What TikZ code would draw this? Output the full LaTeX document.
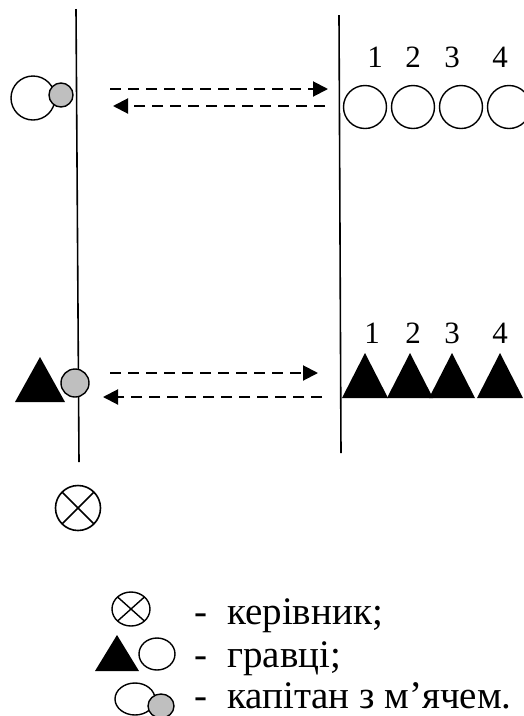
\documentclass[tikz,border=0pt]{standalone}
\usepackage{fontspec}
\setmainfont{Liberation Serif}
\usetikzlibrary{arrows.meta}
\tikzset{
  player/.style={draw,line width=1.4pt,fill=white},
  ballfill/.style={draw,line width=1.4pt,fill=black!25},
  passline/.style={line width=2pt,dash pattern=on 11pt off 7pt,
    -{Triangle[length=15pt,width=15pt]}},
  num/.style={font=\fontsize{31}{34}\selectfont,inner sep=0pt},
  legend/.style={font=\fontsize{39}{44}\selectfont,inner sep=0pt,anchor=base west},
}
\begin{document}
\begin{tikzpicture}[x=1pt,y=-1pt,line width=1.6pt]
\useasboundingbox (0,0) rectangle (524,716);
\clip (0,0) rectangle (524,716);
% start lines
\coordinate (L1) at (76,9);
\coordinate (L2) at (79,462);
\coordinate (R1) at (339,15);
\coordinate (R2) at (341,453);
\draw (L1) -- (L2);
\draw (R1) -- (R2);

% top team: captain with ball, circles
\draw[player] (33,98) circle (22);
\draw[ballfill] (61,95) circle (12);
\draw[player] (365,107) circle (21.5);
\draw[player] (413,107) circle (21.5);
\draw[player] (461,107) circle (21.5);
\draw[player] (509,107) circle (21.5);
\node[num] (n1) at (375,57) {1};
\node[num] (n2) at (413,57) {2};
\node[num] (n3) at (452,57) {3};
\node[num] (n4) at (500,57) {4};
\coordinate (a1) at (110,89);
\coordinate (b1) at (328,89);
\coordinate (a2) at (325,106);
\coordinate (b2) at (113,106);
\draw[passline] (a1) -- (b1);
\draw[passline] (a2) -- (b2);

% bottom team: captain with ball, triangles
\fill (15,402) -- (65,402) -- (40,357) -- cycle;
\draw[ballfill] (75,383) circle (14);
\fill (342,398) -- (388,398) -- (365,353) -- cycle;
\fill (387,398) -- (433,398) -- (410,353) -- cycle;
\fill (429,398) -- (475,398) -- (452,353) -- cycle;
\fill (477,398) -- (523,398) -- (500,353) -- cycle;
\node[num] (m1) at (372,333) {1};
\node[num] (m2) at (413,333) {2};
\node[num] (m3) at (452,333) {3};
\node[num] (m4) at (500,333) {4};
\coordinate (c1) at (110,373);
\coordinate (d1) at (318,373);
\coordinate (c2) at (322,397);
\coordinate (d2) at (103,397);
\draw[passline] (c1) -- (d1);
\draw[passline] (c2) -- (d2);

% leader
\draw (78,508) circle (22.5);
\draw (78,508) +(-16,-16) -- +(16,16);
\draw (78,508) +(-16,16) -- +(16,-16);

% legend
\draw[line width=1.4pt] (131,609) ellipse (19 and 17);
\draw[line width=1.4pt] (131,609) +(-13.4,-12) -- +(13.4,12);
\draw[line width=1.4pt] (131,609) +(-13.4,12) -- +(13.4,-12);
\fill (95,671) -- (139,671) -- (117,635) -- cycle;
\draw[player] (157,654) ellipse (18 and 16);
\draw[player] (135,699) ellipse (20 and 16);
\draw[ballfill] (161,706) ellipse (13 and 12);
\node[legend] (t1) at (194,624) {-\ \ керівник;};
\node[legend] (t2) at (194,667) {-\ \ гравці;};
\node[legend] (t3) at (194,708) {-\ \ капітан з м’ячем.};
\end{tikzpicture}
\end{document}
